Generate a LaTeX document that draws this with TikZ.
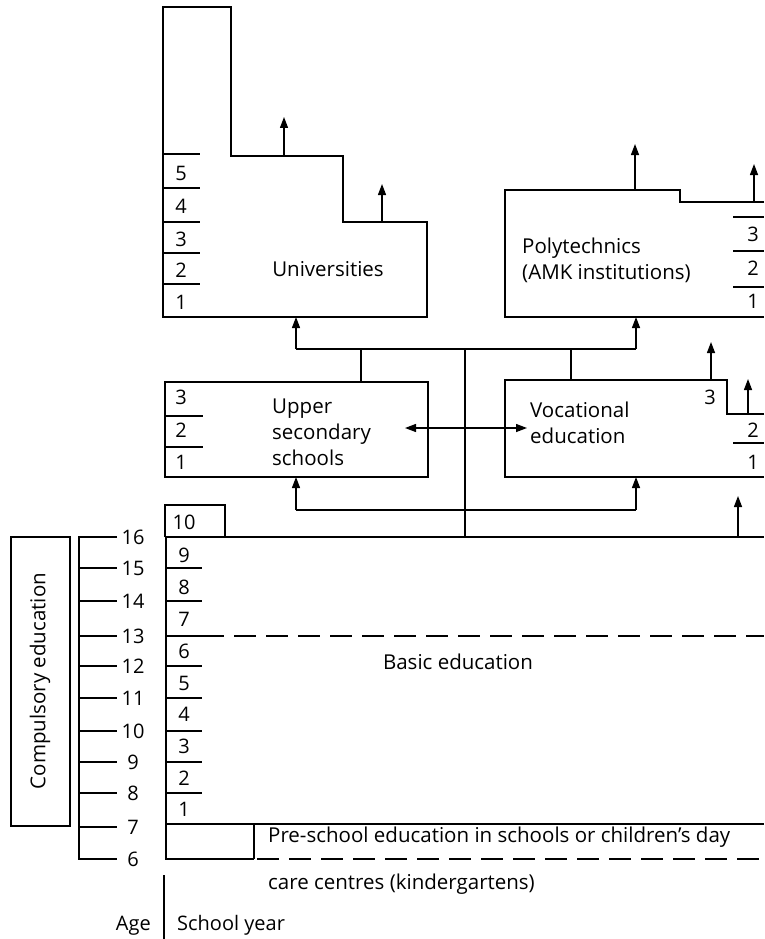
\documentclass[tikz,border=0pt]{standalone}
\usepackage{fontspec}
\setmainfont{Open Sans}
\usetikzlibrary{arrows.meta}
\begin{document}
\begin{tikzpicture}[x=1pt,y=-1pt,
  ln/.style={line width=1.3pt},
  dashln/.style={line width=1.3pt,dash pattern=on 22pt off 10pt},
  uparrow/.style={line width=1.3pt,-{Triangle[length=11pt,width=8pt]}},
  twoway/.style={line width=1.3pt,{Triangle[length=11pt,width=8pt]}-{Triangle[length=11pt,width=8pt]}},
  txt/.style={font=\fontsize{20.5}{26}\selectfont,inner sep=0pt,align=left},
  num/.style={font=\fontsize{20}{24}\selectfont,inner sep=0pt,text height=14pt,text depth=0pt},
]
\useasboundingbox (0,0) rectangle (764,939);

% ---------- Universities ----------
\draw[ln] (163,7) -- (231,7) -- (231,156) -- (343,156) -- (343,222) -- (427,222)
  -- (427,317) -- (163,317) -- cycle;
\foreach \y in {154,188,222,253,284} \draw[ln] (163,\y) -- (200,\y);
\foreach \n/\y in {5/173,4/206,3/239,2/270,1/302} \node[num] (uy\n) at (181,\y) {\n};
\node[txt] (uni) at (328,269) {Universities};
\coordinate (uniA) at (284,156); \coordinate (uniAt) at (284,117);
\coordinate (uniB) at (382,222); \coordinate (uniBt) at (382,184);
\draw[uparrow] (uniA) -- (uniAt);
\draw[uparrow] (uniB) -- (uniBt);

% ---------- Polytechnics ----------
\draw[ln] (764,202) -- (680,202) -- (680,190) -- (505,190) -- (505,317) -- (764,317);
\foreach \y in {217,251,287} \draw[ln] (733,\y) -- (764,\y);
\foreach \n/\y in {3/234,2/268,1/301} \node[num] (py\n) at (753,\y) {\n};
\node[txt,anchor=base west] (poly) at (522,279) {Polytechnics\\(AMK institutions)};
\coordinate (polA) at (635,190); \coordinate (polAt) at (635,144);
\coordinate (polB) at (754,202); \coordinate (polBt) at (754,164);
\draw[uparrow] (polA) -- (polAt);
\draw[uparrow] (polB) -- (polBt);

% ---------- Upper secondary schools ----------
\draw[ln] (165,382) rectangle (428,477);
\foreach \y in {416,447} \draw[ln] (165,\y) -- (203,\y);
\foreach \n/\y in {3/397,2/430,1/462} \node[num] (sy\n) at (181,\y) {\n};
\node[txt,anchor=base west] (upper) at (272,465) {Upper\\secondary\\schools};

% ---------- Vocational education ----------
\draw[ln] (764,414) -- (727,414) -- (727,380) -- (505,380) -- (505,477) -- (764,477);
\draw[ln] (733,443) -- (764,443);
\node[num] (vy3) at (710,397) {3};
\node[num] (vy2) at (753,430) {2};
\node[num] (vy1) at (753,462) {1};
\node[txt,anchor=base west] (voc) at (530,443) {Vocational\\education};
\coordinate (vocA) at (711,380); \coordinate (vocAt) at (711,342);
\coordinate (vocB) at (748,414); \coordinate (vocBt) at (748,379);
\draw[uparrow] (vocA) -- (vocAt);
\draw[uparrow] (vocB) -- (vocBt);

% ---------- links between the levels ----------
\coordinate (hubL) at (296,349); \coordinate (hubR) at (636,349);
\coordinate (uniIn) at (296,317); \coordinate (polIn) at (636,317);
\coordinate (upTop) at (361,382); \coordinate (upTopJ) at (361,349);
\coordinate (vocTop) at (571,380); \coordinate (vocTopJ) at (571,349);
\coordinate (spine) at (465,349); \coordinate (spineB) at (465,537);
\draw[ln] (hubL) -- (hubR);
\draw[uparrow] (hubL) -- (uniIn);
\draw[uparrow] (hubR) -- (polIn);
\draw[ln] (upTop) -- (upTopJ);
\draw[ln] (vocTop) -- (vocTopJ);
\draw[ln] (spine) -- (spineB);

\coordinate (swL) at (405,428); \coordinate (swR) at (527,428);
\draw[twoway] (swL) -- (swR);

\coordinate (lowL) at (296,510); \coordinate (lowR) at (636,510);
\coordinate (upIn) at (296,477); \coordinate (vocIn) at (636,477);
\draw[ln] (lowL) -- (lowR);
\draw[uparrow] (lowL) -- (upIn);
\draw[uparrow] (lowR) -- (vocIn);

\coordinate (basA) at (738,537); \coordinate (basAt) at (738,496);
\draw[uparrow] (basA) -- (basAt);

% ---------- Basic education ----------
\draw[ln] (165,537) -- (165,505) -- (225,505) -- (225,537);
\node[num] (by10) at (184,522) {10};
\draw[ln] (165,537) -- (764,537);
\draw[ln] (166,537) -- (166,859) -- (254,859);
\draw[ln] (166,824) -- (764,824);
\draw[ln] (254,824) -- (254,859);
\draw[dashln,dash phase=-3pt] (254,859) -- (764,859);
\foreach \y in {568,601,636,666,698,731,762,793} \draw[ln] (166,\y) -- (202,\y);
\draw[dashln,dash phase=-1pt] (201,636) -- (764,636);
\foreach \n/\y in {9/555,8/587,7/619,6/651,5/683,4/714,3/746,2/778,1/809}
  \node[num] (by\n) at (184,\y) {\n};
\node[txt] (basic) at (458,662) {Basic education};
\node[txt,font=\fontsize{20.5}{47}\selectfont,anchor=base west] (pre) at (268,889)
  {Pre-school education in schools or children’s day\\care centres (kindergartens)};

% ---------- Age scale ----------
\draw[ln] (117,537) -- (79,537) -- (79,859) -- (117,859);
\foreach \y in {568,601,636,666,698,731,762,793,827} \draw[ln] (79,\y) -- (117,\y);
\foreach \a/\y in {16/537,15/568,14/601,13/636,12/666,11/698,10/731,9/762,8/793,7/827,6/859}
  \node[num] (age\a) at (133,\y) {\a};
\draw[ln] (11,537) rectangle (70,826);
\node[txt,rotate=90] (comp) at (40,681) {Compulsory education};

% ---------- Legend ----------
\coordinate (legT) at (164,875); \coordinate (legB) at (164,939);
\draw[ln] (legT) -- (legB);
\node[num,anchor=east] (age) at (151,923) {Age};
\node[num,anchor=west] (year) at (177,923) {School year};
\end{tikzpicture}
\end{document}
